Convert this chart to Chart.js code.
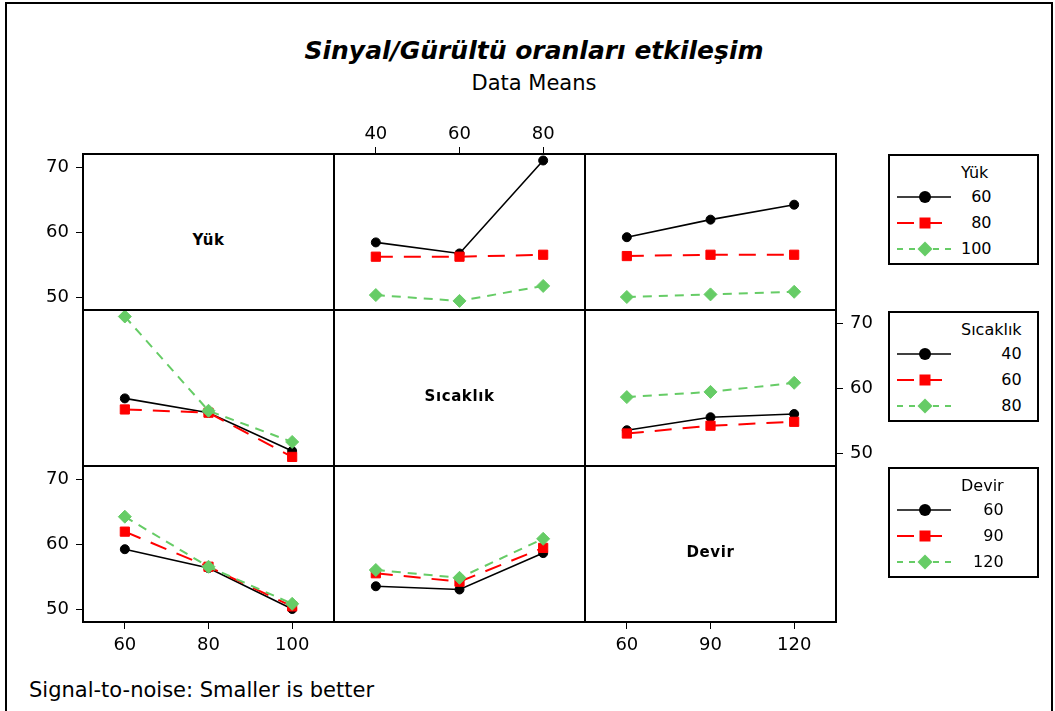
<!DOCTYPE html>
<html lang="tr">
<head>
<meta charset="UTF-8">
<title>Sinyal/Gürültü oranları etkileşim</title>
<script src="https://cdn.jsdelivr.net/npm/chart.js"></script>
<style>
  html, body { margin: 0; padding: 0; background: #fff; }
  body { width: 1055px; height: 711px; position: relative; overflow: hidden; font-family: "DejaVu Sans", sans-serif; color: #000; }
  #frame { position: absolute; left: 5px; top: 2px; width: 1048px; height: 740px; border: 2px solid #000; box-sizing: border-box; }
  .title { position: absolute; left: 0; width: 1068px; text-align: center; }
  #mainTitle { top: 35px; font-size: 25px; line-height: 32px; font-weight: bold; font-style: italic; }
  #subTitle { top: 71px; font-size: 21px; line-height: 24px; }
  #note { position: absolute; left: 29px; top: 678px; font-size: 21px; line-height: 24px; }
  canvas { position: absolute; }
  .panel { position: absolute; border: 2px solid #000; box-sizing: border-box; pointer-events: none; }
  .diagLabel { position: absolute; font-weight: bold; font-size: 15px; letter-spacing: 0.6px; text-align: center; line-height: 20px; }
  .legend { position: absolute; left: 888px; width: 151px; height: 111px; border: 2px solid #000; box-sizing: border-box; background: #fff; }
  .legend .col { position: absolute; left: 71px; top: 6px; font-size: 16px; }
  .legend .head { line-height: 22px; text-align: left; }
  .legend .item { line-height: 26px; text-align: right; }
  .legend svg { position: absolute; left: 5px; }
</style>
</head>
<body>
<div id="frame"></div>
<div id="mainTitle" class="title">Sinyal/Gürültü oranları etkileşim</div>
<div id="subTitle" class="title">Data Means</div>
<div id="plot"></div>
<div id="note">Signal-to-noise: Smaller is better</div>

<script>
// factor levels
const factorNames = ['Yük', 'Sıcaklık', 'Devir'];
const yukLevels = [60, 80, 100];
const sicaklikLevels = [40, 60, 80];
const devirLevels = [60, 90, 120];
const yTicks = [50, 60, 70];

// S/N means, rows = first factor level, columns = second factor level
const yukSicaklik = [
    [58.4, 56.7, 71.0],
    [56.2, 56.2, 56.5],
    [50.3, 49.4, 51.7]
];
const yukDevir = [
    [59.2, 61.9, 64.2],
    [56.3, 56.5, 56.5],
    [50.0, 50.4, 50.8]
];
const sicaklikDevir = [
    [53.5, 55.5, 56.0],
    [53.0, 54.2, 54.8],
    [58.6, 59.4, 60.8]
];

const levels = [yukLevels, sicaklikLevels, devirLevels];
const xRanges = [[50, 110], [30, 90], [45, 135]];
const yRange = [48, 72];

// panel grid edges in page pixels
const PANEL_X = [83, 334, 585, 836];
const PANEL_Y = [154, 310, 466, 622];
const Y_AXIS_W = 60, X_AXIS_H = 45, PAD = 12;

const seriesStyle = [
    { color: '#000000', dash: [], legendDash: '', width: 1.6, point: 'circle', radius: 4.5 },
    { color: '#ff0000', dash: [17, 11], legendDash: '17 11', width: 2, point: 'rect', radius: 6.5 },
    { color: '#66cc66', dash: [9, 7], legendDash: '6 6', width: 2, point: 'rectRot', radius: 6.5 }
];

const tickFont = { family: 'DejaVu Sans', size: 18 };

function cellMeans(r, c) {
    const m = { '01': yukSicaklik, '02': yukDevir, '12': sicaklikDevir }[Math.min(r, c) + '' + Math.max(r, c)];
    if (r < c) return m;
    return m[0].map((_, j) => m.map(row => row[j]));
}

function axisLook(pad) {
    return {
        grid: { display: true, drawOnChartArea: false, drawTicks: true, tickLength: 7, color: '#000', lineWidth: 1 },
        border: { display: false },
        ticks: { color: '#000', font: tickFont, padding: pad, callback: v => String(v) }
    };
}

function buildPanel(r, c) {
    const x0 = PANEL_X[c], y0 = PANEL_Y[r];
    const w = PANEL_X[c + 1] - x0, h = PANEL_Y[r + 1] - y0;

    // outer axes: column 1 bottom, column 2 top, column 3 bottom; row 1 left, row 2 right, row 3 left
    let xPos = null, yPos = null;
    if (c === 1 && r === 0) xPos = 'top';
    if (c !== 1 && r === 2) xPos = 'bottom';
    if (r !== 1 && c === 0) yPos = 'left';
    if (r === 1 && c === 2) yPos = 'right';

    const pad = {
        left: yPos === 'left' ? 0 : PAD,
        right: yPos === 'right' ? 0 : PAD,
        top: xPos === 'top' ? 0 : PAD,
        bottom: xPos === 'bottom' ? 0 : PAD
    };
    const ext = {
        left: yPos === 'left' ? Y_AXIS_W : PAD,
        right: yPos === 'right' ? Y_AXIS_W : PAD,
        top: xPos === 'top' ? X_AXIS_H : PAD,
        bottom: xPos === 'bottom' ? X_AXIS_H : PAD
    };

    const plot = document.getElementById('plot');
    const border = document.createElement('div');
    border.className = 'panel';
    border.style.left = (x0 - 1) + 'px';
    border.style.top = (y0 - 1) + 'px';
    border.style.width = (w + 2) + 'px';
    border.style.height = (h + 2) + 'px';

    if (r === c) {
        const lab = document.createElement('div');
        lab.className = 'diagLabel';
        lab.textContent = factorNames[r];
        lab.style.left = x0 + 'px';
        lab.style.width = w + 'px';
        lab.style.top = (y0 + h / 2 - 2) + 'px';
        plot.appendChild(lab);
    }

    let datasets = [];
    if (r !== c) {
        const means = cellMeans(r, c);
        datasets = levels[r].map((lvl, i) => ({
            label: factorNames[r] + ' ' + lvl,
            data: levels[c].map((xv, j) => ({ x: xv, y: means[i][j] })),
            borderColor: seriesStyle[i].color,
            backgroundColor: seriesStyle[i].color,
            borderWidth: seriesStyle[i].width,
            borderDash: seriesStyle[i].dash,
            pointStyle: seriesStyle[i].point,
            pointRadius: seriesStyle[i].radius,
            pointBorderWidth: 1,
            pointBackgroundColor: seriesStyle[i].color,
            pointBorderColor: seriesStyle[i].color,
            tension: 0,
            clip: false,
            order: 3 - i
        }));
    }

    if (r === c && !xPos && !yPos) {
        plot.appendChild(border);
        return;
    }

    const canvas = document.createElement('canvas');
    canvas.width = w + ext.left + ext.right;
    canvas.height = h + ext.top + ext.bottom;
    canvas.style.left = (x0 - ext.left) + 'px';
    canvas.style.top = (y0 - ext.top) + 'px';
    plot.appendChild(canvas);
    plot.appendChild(border);

    const xLevels = levels[c];
    new Chart(canvas, {
        type: 'line',
        data: { datasets },
        options: {
            responsive: false,
            animation: false,
            events: [],
            layout: { padding: pad },
            plugins: { legend: { display: false }, tooltip: { enabled: false } },
            scales: {
                x: Object.assign(axisLook(xPos === 'top' ? 2 : 6), {
                    type: 'linear',
                    display: !!xPos,
                    position: xPos || 'bottom',
                    min: xRanges[c][0],
                    max: xRanges[c][1],
                    afterBuildTicks: s => { s.ticks = xLevels.map(v => ({ value: v })); },
                    afterFit: s => {
                        s.height = xPos ? X_AXIS_H : 0;
                        s.paddingLeft = 0; s.paddingRight = 0;
                    }
                }),
                y: Object.assign(axisLook(7), {
                    type: 'linear',
                    display: !!yPos,
                    position: yPos || 'left',
                    min: yRange[0],
                    max: yRange[1],
                    afterBuildTicks: s => { s.ticks = yTicks.map(v => ({ value: v })); },
                    afterFit: s => {
                        s.width = yPos ? Y_AXIS_W : 0;
                        s.paddingTop = 0; s.paddingBottom = 0;
                    }
                })
            }
        }
    });
}

for (let r = 0; r < 3; r++) {
    for (let c = 0; c < 3; c++) buildPanel(r, c);
}

// legend boxes, one per row factor
const legendTops = [154, 311, 467];
function buildLegend(k) {
    const box = document.createElement('div');
    box.className = 'legend';
    box.style.top = legendTops[k] + 'px';

    const col = document.createElement('div');
    col.className = 'col';
    const head = document.createElement('div');
    head.className = 'head';
    head.textContent = factorNames[k];
    col.appendChild(head);

    levels[k].forEach((lvl, i) => {
        const item = document.createElement('div');
        item.className = 'item';
        item.textContent = lvl;
        col.appendChild(item);

        const s = seriesStyle[i];
        const ns = 'http://www.w3.org/2000/svg';
        const svg = document.createElementNS(ns, 'svg');
        svg.setAttribute('width', '58');
        svg.setAttribute('height', '18');
        svg.style.top = (6 + 22 + 26 * i + 13 - 9) + 'px';
        const line = document.createElementNS(ns, 'line');
        line.setAttribute('x1', '2'); line.setAttribute('x2', '56');
        line.setAttribute('y1', '9'); line.setAttribute('y2', '9');
        line.setAttribute('stroke', s.color);
        line.setAttribute('stroke-width', s.width);
        if (s.legendDash) line.setAttribute('stroke-dasharray', s.legendDash);
        svg.appendChild(line);
        let mark;
        if (s.point === 'circle') {
            mark = document.createElementNS(ns, 'circle');
            mark.setAttribute('cx', '30'); mark.setAttribute('cy', '9'); mark.setAttribute('r', '6');
        } else if (s.point === 'rect') {
            mark = document.createElementNS(ns, 'rect');
            mark.setAttribute('x', '24.5'); mark.setAttribute('y', '3.5');
            mark.setAttribute('width', '11'); mark.setAttribute('height', '11');
        } else {
            mark = document.createElementNS(ns, 'polygon');
            mark.setAttribute('points', '30,1.5 37.5,9 30,16.5 22.5,9');
        }
        mark.setAttribute('fill', s.color);
        svg.appendChild(mark);
        box.appendChild(svg);
    });
    box.appendChild(col);
    document.body.appendChild(box);
}
[0, 1, 2].forEach(buildLegend);
</script>
</body>
</html>
